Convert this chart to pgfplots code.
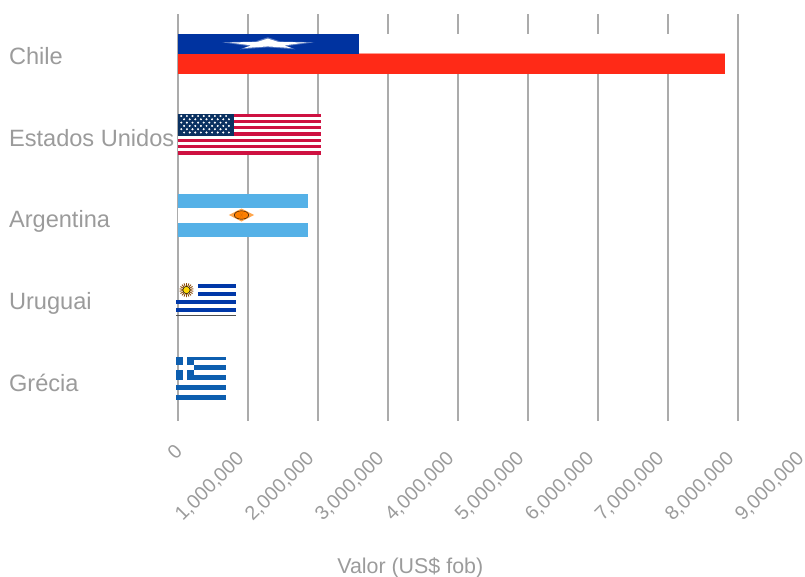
\documentclass[border=0pt]{standalone}
\usepackage{fontspec}
\setmainfont{Liberation Sans}
\usepackage{pgfplots}
\pgfplotsset{compat=1.18}

\definecolor{labelgray}{HTML}{9B9B9B}
\definecolor{gridgray}{HTML}{ABABAB}
\definecolor{chileblue}{HTML}{0033A0}
\definecolor{chilered}{HTML}{FF2A17}
\definecolor{chileedge}{HTML}{FF9C90}
\definecolor{usred}{HTML}{CE1141}
\definecolor{usnavy}{HTML}{0A3161}
\definecolor{argblue}{HTML}{55B1E7}
\definecolor{urublue}{HTML}{0038A8}
\definecolor{greekblue}{HTML}{0D5EAF}
\definecolor{sunbrown}{HTML}{8A4B08}

% One rectangle of a flag: colour, x from, x to (millions of US$), y from, y to
\newcommand{\stripe}[5]{%
  \addplot[fill=#1,draw=none] coordinates {(#2,#4)(#3,#4)(#3,#5)(#2,#5)} --cycle;%
}

\begin{document}
\begin{tikzpicture}
\path[use as bounding box] (0pt,-576pt) rectangle (805pt,0pt);
\begin{axis}[
  at={(177.8pt,-421pt)}, anchor=south west,
  scale only axis, width=630pt, height=407pt,
  xmin=0, xmax=9, ymin=14, ymax=421, y dir=reverse,
  clip=false,
  axis line style={draw=none},
  major tick length=0pt,
  xmajorgrids,
  grid style={gridgray, line width=1.7pt},
  xtick={0,1,2,3,4,5,6,7,8,9},
  xticklabels={\rlap{0},{1,000,000},{2,000,000},{3,000,000},{4,000,000},{5,000,000},{6,000,000},{7,000,000},{8,000,000},{9,000,000}},
  ytick={56,138,221,303,383},
  yticklabels={Chile,Estados Unidos,Argentina,Uruguai,Grécia},
  xticklabel style={rotate=45, anchor=east, xshift=-26pt, yshift=-19.8pt,
    text=labelgray, font=\fontsize{19.7}{20}\selectfont},
  yticklabel style={anchor=west, xshift=-172.3pt,
    text=labelgray, font=\fontsize{23.6}{24}\selectfont},
  xlabel={Valor (US\$ fob)},
  xlabel style={at={(axis description cs:0.369,-0.361)}, anchor=center,
    text=labelgray, font=\fontsize{21.4}{22}\selectfont},
]

% Chile: 7.81 million
\stripe{white}{2.59}{7.81}{34}{54}
\stripe{chileblue}{0}{2.59}{34}{54}
\stripe{chileedge}{2.59}{7.81}{53.1}{54.2}
\stripe{chilered}{0}{7.81}{54}{74}
\addplot[fill=white, fill opacity=0.35, draw=none] coordinates {
  (1.286,37.3)(1.46,41.4)(1.95,42.3)(1.56,46)(1.68,49.3)(1.286,47.3)(0.89,49.3)(1.01,46)(0.63,42.3)(1.11,41.4)} --cycle;
\addplot[fill=white, draw=none] coordinates {
  (1.286,38.6)(1.44,42)(1.84,42.4)(1.52,45.4)(1.62,48)(1.286,46.4)(0.95,48)(1.05,45.4)(0.74,42.4)(1.13,42)} --cycle;

% Estados Unidos: 2.04 million
\stripe{white}{0}{2.04}{114}{155}
\stripe{usred}{0}{2.04}{114}{117}
\stripe{usred}{0}{2.04}{120}{123}
\stripe{usred}{0}{2.04}{126}{129}
\stripe{usred}{0}{2.04}{132}{136}
\stripe{usred}{0}{2.04}{139}{142}
\stripe{usred}{0}{2.04}{145}{148}
\stripe{usred}{0}{2.04}{151}{155}
\stripe{usnavy}{0}{0.80}{114}{136}
\addplot[only marks, mark=*, mark size=0.8pt, white] coordinates {
  (0.05,116)(0.13,116)(0.21,116)(0.29,116)(0.37,116)(0.45,116)(0.53,116)(0.61,116)(0.69,116)
  (0.09,119.3)(0.17,119.3)(0.25,119.3)(0.33,119.3)(0.41,119.3)(0.49,119.3)(0.57,119.3)(0.65,119.3)(0.73,119.3)
  (0.05,122.6)(0.13,122.6)(0.21,122.6)(0.29,122.6)(0.37,122.6)(0.45,122.6)(0.53,122.6)(0.61,122.6)(0.69,122.6)
  (0.09,125.9)(0.17,125.9)(0.25,125.9)(0.33,125.9)(0.41,125.9)(0.49,125.9)(0.57,125.9)(0.65,125.9)(0.73,125.9)
  (0.05,129.2)(0.13,129.2)(0.21,129.2)(0.29,129.2)(0.37,129.2)(0.45,129.2)(0.53,129.2)(0.61,129.2)(0.69,129.2)
  (0.09,132.5)(0.17,132.5)(0.25,132.5)(0.33,132.5)(0.41,132.5)(0.49,132.5)(0.57,132.5)(0.65,132.5)(0.73,132.5)
};

% Argentina: 1.86 million
\stripe{white}{0}{1.86}{194}{237}
\stripe{argblue}{0}{1.86}{194}{207.5}
\stripe{argblue}{0}{1.86}{222.7}{237}
\addplot[fill=orange!70, draw=none] coordinates {
  (0.73,215)(0.91,208.5)(1.09,215)(0.91,221.5)} --cycle;
\addplot[only marks, mark=*, mark size=4.2pt, mark options={xscale=1.7, draw=none, fill=orange}] coordinates {(0.91,215)};
\addplot[only marks, mark=asterisk, mark size=4pt, sunbrown!25!orange,
  mark options={line width=0.4pt, rotate=30}] coordinates {(0.91,215)};

% Uruguai: 0.83 million
\stripe{urublue}{0.286}{0.83}{284}{288}
\stripe{urublue}{0.286}{0.83}{292}{296}
\stripe{urublue}{-0.03}{0.83}{300}{304}
\stripe{urublue}{-0.03}{0.83}{308}{312}
\stripe{black!70}{-0.03}{0.83}{315.3}{316}
\addplot[only marks, mark=asterisk, mark size=7pt, sunbrown,
  mark options={line width=0.9pt}] coordinates {(0.124,290)};
\addplot[only marks, mark=asterisk, mark size=7pt, sunbrown,
  mark options={line width=0.9pt, rotate=20}] coordinates {(0.124,290)};
\addplot[only marks, mark=asterisk, mark size=7pt, sunbrown,
  mark options={line width=0.9pt, rotate=40}] coordinates {(0.124,290)};
\addplot[only marks, mark=*, mark size=3.6pt, mark options={draw=none, fill=yellow!75!orange}] coordinates {(0.124,290)};

% Grécia: 0.69 million
\stripe{greekblue}{0.129}{0.69}{357}{360}
\stripe{greekblue}{0.229}{0.69}{365}{370}
\stripe{greekblue}{0.129}{0.69}{375}{380}
\stripe{greekblue}{-0.03}{0.69}{385}{390}
\stripe{greekblue}{-0.03}{0.69}{395}{400}
\stripe{greekblue}{-0.03}{0.071}{357}{365}
\stripe{greekblue}{0.129}{0.229}{357}{365}
\stripe{greekblue}{-0.03}{0.071}{370}{380}
\stripe{greekblue}{0.129}{0.229}{370}{380}

\end{axis}
\end{tikzpicture}
\end{document}
